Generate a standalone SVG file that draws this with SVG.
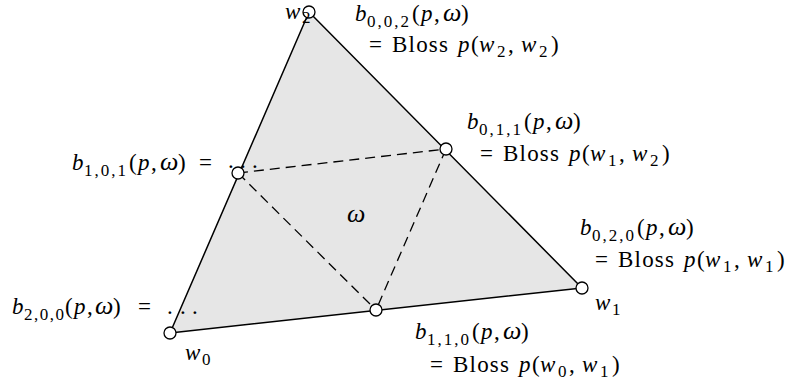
<svg xmlns="http://www.w3.org/2000/svg" width="795" height="385" viewBox="0 0 795 385">
<style>
text{font-family:"Liberation Serif","DejaVu Serif",serif;font-size:23px;fill:#000}
.i{font-style:italic}
.o{font-style:italic;font-size:26px}
.s{font-size:17px}
.ls{letter-spacing:2px}
.bl{letter-spacing:1.2px}
.dash{stroke:#000;stroke-width:1.3;fill:none;stroke-dasharray:10 6}
.pt{fill:#fff;stroke:#000;stroke-width:1.3}
</style>
<rect width="795" height="385" fill="#fff"/>
<g id="triangle">
<polygon points="170,333 582,288 309,12" fill="#e6e6e6" stroke="#000" stroke-width="1.5" stroke-linejoin="round"/>
</g>
<g id="connectors">
<line class="dash" x1="238" y1="173" x2="446" y2="149"/>
<line class="dash" x1="238" y1="173" x2="376" y2="310"/>
<line class="dash" x1="446" y1="149" x2="376" y2="310"/>
</g>
<g id="w2"><circle class="pt" cx="309" cy="12" r="6"/>
<text><tspan class="i" x="285" y="19">w</tspan><tspan class="s" x="302" y="23">2</tspan></text></g>
<g id="b002">
<text><tspan class="i" x="355" y="21">b</tspan><tspan class="s ls" x="367" y="27">0,0,2</tspan><tspan x="412" y="21">(</tspan><tspan class="i" x="421">p</tspan><tspan x="434">,</tspan><tspan class="o" x="443">ω</tspan><tspan x="461">)</tspan></text>
<text><tspan x="369" y="52">=</tspan><tspan class="bl" x="392">Bloss</tspan><tspan class="i" x="458">p</tspan><tspan x="471">(</tspan><tspan class="i" x="479">w</tspan><tspan class="s" x="497" y="57">2</tspan><tspan x="508" y="52">,</tspan><tspan class="i" x="521">w</tspan><tspan class="s" x="539" y="57">2</tspan><tspan x="551" y="52">)</tspan></text>
</g>
<g id="b011"><circle class="pt" cx="446" cy="149" r="6"/>
<text><tspan class="i" x="467" y="129">b</tspan><tspan class="s ls" x="479" y="135">0,1,1</tspan><tspan x="524" y="129">(</tspan><tspan class="i" x="533">p</tspan><tspan x="546">,</tspan><tspan class="o" x="555">ω</tspan><tspan x="573">)</tspan></text>
<text><tspan x="480" y="161">=</tspan><tspan class="bl" x="503">Bloss</tspan><tspan class="i" x="569">p</tspan><tspan x="582">(</tspan><tspan class="i" x="590">w</tspan><tspan class="s" x="608" y="166">1</tspan><tspan x="619" y="161">,</tspan><tspan class="i" x="632">w</tspan><tspan class="s" x="650" y="166">2</tspan><tspan x="662" y="161">)</tspan></text>
</g>
<g id="b101">
<text><tspan class="i" x="72" y="170">b</tspan><tspan class="s ls" x="84" y="176">1,0,1</tspan><tspan x="129" y="170">(</tspan><tspan class="i" x="138">p</tspan><tspan x="151">,</tspan><tspan class="o" x="160">ω</tspan><tspan x="178">)</tspan><tspan x="199">=</tspan><tspan x="228" y="168">.</tspan><tspan x="240">.</tspan><tspan x="252">.</tspan></text>
<circle class="pt" cx="238" cy="173" r="6"/>
</g>
<g id="omega"><text class="o" x="347" y="222">ω</text></g>
<g id="b020"><circle class="pt" cx="582" cy="288" r="6"/>
<text><tspan class="i" x="580" y="235">b</tspan><tspan class="s ls" x="592" y="241">0,2,0</tspan><tspan x="637" y="235">(</tspan><tspan class="i" x="646">p</tspan><tspan x="659">,</tspan><tspan class="o" x="668">ω</tspan><tspan x="686">)</tspan></text>
<text><tspan x="595" y="267">=</tspan><tspan class="bl" x="618">Bloss</tspan><tspan class="i" x="684">p</tspan><tspan x="697">(</tspan><tspan class="i" x="705">w</tspan><tspan class="s" x="723" y="272">1</tspan><tspan x="734" y="267">,</tspan><tspan class="i" x="747">w</tspan><tspan class="s" x="765" y="272">1</tspan><tspan x="777" y="267">)</tspan></text>
<text><tspan class="i" x="595" y="310">w</tspan><tspan class="s" x="612" y="315">1</tspan></text>
</g>
<g id="b200">
<text><tspan class="i" x="12" y="314">b</tspan><tspan class="s" x="24" y="320" letter-spacing="1.5">2,0,0</tspan><tspan x="65" y="314">(</tspan><tspan class="i" x="74">p</tspan><tspan x="87">,</tspan><tspan class="o" x="95">ω</tspan><tspan x="113">)</tspan><tspan x="138">=</tspan><tspan x="167">.</tspan><tspan x="180">.</tspan><tspan x="192">.</tspan></text>
<circle class="pt" cx="170" cy="333" r="6"/>
<text><tspan class="i" x="185" y="360">w</tspan><tspan class="s" x="202" y="365">0</tspan></text>
</g>
<g id="b110"><circle class="pt" cx="376" cy="310" r="6"/>
<text><tspan class="i" x="415" y="339">b</tspan><tspan class="s ls" x="427" y="345">1,1,0</tspan><tspan x="472" y="339">(</tspan><tspan class="i" x="481">p</tspan><tspan x="494">,</tspan><tspan class="o" x="503">ω</tspan><tspan x="521">)</tspan></text>
<text><tspan x="430" y="372">=</tspan><tspan class="bl" x="453">Bloss</tspan><tspan class="i" x="519">p</tspan><tspan x="532">(</tspan><tspan class="i" x="540">w</tspan><tspan class="s" x="558" y="377">0</tspan><tspan x="569" y="372">,</tspan><tspan class="i" x="582">w</tspan><tspan class="s" x="600" y="377">1</tspan><tspan x="612" y="372">)</tspan></text>
</g>
</svg>
